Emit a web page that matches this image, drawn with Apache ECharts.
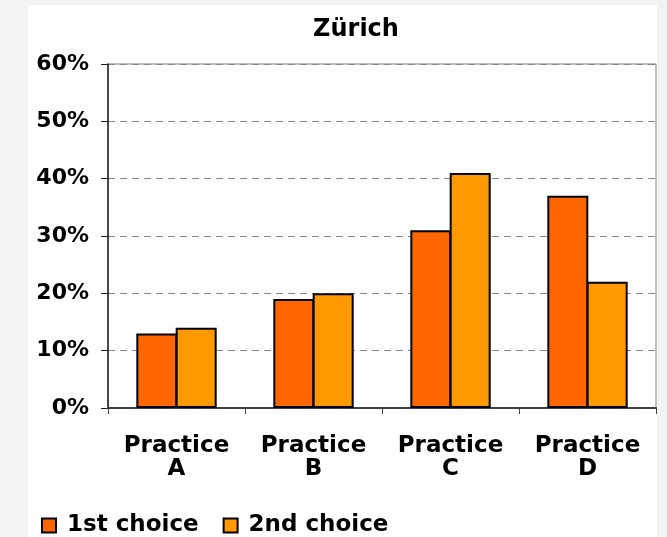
<!DOCTYPE html>
<html>
<head>
<meta charset="utf-8">
<script src="https://cdn.jsdelivr.net/npm/echarts@6/dist/echarts.min.js"></script>
<style>
  html, body { margin: 0; padding: 0; background: #f3f3f3; }
  #main { position: absolute; left: 0; top: 0; width: 667px; height: 537px; }
</style>
</head>
<body>
<div id="main"></div>
<script>
// chart data
const categories = ["Practice\nA", "Practice\nB", "Practice\nC", "Practice\nD"];
const seriesNames = ["1st choice", "2nd choice"];
const firstChoice = [13, 19, 31, 37];
const secondChoice = [14, 20, 41, 22];
const yMax = 60;
const yStep = 10;

const FONT = "DejaVu Sans";
const chart = echarts.init(document.getElementById("main"));

const option = {
  backgroundColor: "#f3f3f3",
  animation: false,
  graphic: [
    {
      type: "rect",
      z: -10,
      silent: true,
      shape: { x: 28, y: 5, width: 629, height: 532 },
      style: { fill: "#ffffff" },
    },
  ],
  title: {
    text: "Zürich",
    left: 356,
    top: 18,
    padding: 0,
    textAlign: "center",
    textStyle: { fontFamily: FONT, fontWeight: "bold", fontSize: 24, color: "#000" },
  },
  legend: {
    left: 41,
    top: 514,
    padding: 0,
    itemWidth: 14,
    itemHeight: 14,
    itemGap: 24,
    icon: "rect",
    itemStyle: { borderColor: "#000", borderWidth: 2 },
    textStyle: {
      fontFamily: FONT,
      fontWeight: "bold",
      fontSize: 23,
      color: "#000",
      padding: [0, 0, 0, 6],
    },
    data: seriesNames,
  },
  grid: {
    left: 108,
    right: 11,
    top: 64,
    bottom: 129,
    show: true,
    borderColor: "#808080",
    borderWidth: 1,
    backgroundColor: "transparent",
  },
  xAxis: {
    type: "category",
    data: categories,
    axisLine: { lineStyle: { color: "#404040", width: 2 } },
    axisTick: { show: true, length: 6, lineStyle: { color: "#404040" } },
    axisLabel: {
      interval: 0,
      margin: 27,
      fontFamily: FONT,
      fontWeight: "bold",
      fontSize: 23,
      lineHeight: 23,
      color: "#000",
    },
  },
  yAxis: {
    type: "value",
    min: 0,
    max: yMax,
    interval: yStep,
    axisLine: { show: true, lineStyle: { color: "#202020", width: 1.5 } },
    axisTick: { show: true, length: 7, lineStyle: { color: "#202020" } },
    axisLabel: {
      margin: 19,
      formatter: "{value}%",
      fontFamily: FONT,
      fontWeight: "bold",
      fontSize: 22,
      color: "#000",
    },
    splitLine: {
      show: true,
      lineStyle: { color: "#888", type: [7, 5], width: 1 },
    },
  },
  series: [
    {
      name: seriesNames[0],
      type: "bar",
      data: firstChoice,
      barWidth: 41,
      barGap: "-4%",
      itemStyle: { color: "#ff6600", borderColor: "#000", borderWidth: 2 },
    },
    {
      name: seriesNames[1],
      type: "bar",
      data: secondChoice,
      barWidth: 41,
      barGap: "-4%",
      itemStyle: { color: "#ff9900", borderColor: "#000", borderWidth: 2 },
    },
  ],
};

chart.setOption(option);
</script>
</body>
</html>
